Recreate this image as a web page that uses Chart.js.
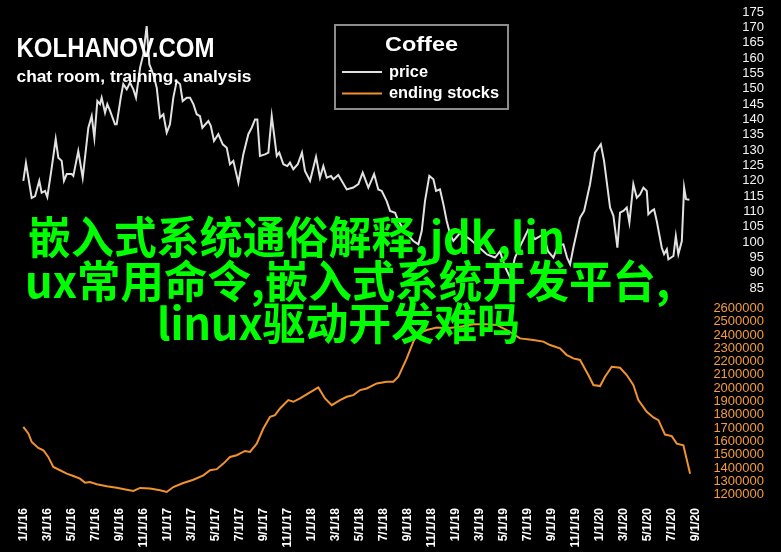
<!DOCTYPE html>
<html><head><meta charset="utf-8">
<script src="https://cdn.jsdelivr.net/npm/chart.js@4/dist/chart.umd.min.js"></script>
<style>html,body{margin:0;padding:0;background:#000;overflow:hidden}canvas{display:block}</style>
</head><body>
<canvas id="c" width="781" height="552"></canvas>
<script>
// ---- data (months since 1/1/16) ----
const priceT = [0,0.22,0.7,0.98,1.33,1.53,1.81,2.0,2.37,2.7,2.92,3.2,3.39,3.62,4.03,4.17,4.58,4.95,5.42,5.7,5.92,6.17,6.39,6.53,6.81,7.0,7.23,7.64,7.78,8.12,8.33,8.62,8.89,9.17,9.39,9.73,10.0,10.28,10.5,10.83,11.12,11.39,11.67,11.95,12.22,12.5,12.78,13.06,13.28,13.62,13.89,14.17,14.45,14.72,14.92,15.42,15.62,15.89,16.25,16.62,16.95,17.22,17.5,17.92,18.33,18.75,19.03,19.31,19.5,19.72,20.14,20.42,20.7,21.12,21.33,21.67,22.0,22.22,22.5,22.87,23.22,23.47,23.89,24.17,24.39,24.72,25.0,25.28,25.64,25.83,26.25,26.95,27.5,27.92,28.28,28.75,29.23,29.58,29.87,30.28,30.56,30.98,31.25,31.9,32.5,32.92,33.2,33.47,33.83,34.17,34.39,34.72,35.0,35.28,35.56,35.83,36.39,37.22,38.06,38.64,39.31,39.72,40.14,40.56,40.97,41.56,42.06,42.64,43.33,43.73,44.17,44.56,45.0,45.31,45.56,45.83,46.39,46.73,47.22,47.64,48.12,48.39,48.89,49.17,49.5,49.72,50.0,50.28,50.5,50.83,51.12,51.39,51.67,51.95,52.08,52.37,52.56,52.78,53.2,53.39,53.62,53.75,54.17,54.37,54.58,54.87,55.06,55.22,55.5];
const priceV = [120,125.8,114.4,115,120,116.1,116.7,114.7,124.3,133.6,127.5,126.5,120,122.2,122.2,121.6,129.7,121,137.3,141.1,134,146,145,147.1,142.2,145,142.8,138.4,138.4,147.1,151.5,149.8,152,149.8,147.1,156.9,161.2,170.4,158,154.7,150.3,140.6,141.7,135.7,138.4,147.1,152.5,151.5,146,147.1,147.1,145,141.7,141.1,137.3,139.5,137.9,133,135.2,131.9,130.8,125.4,126.5,119.4,128.6,135.2,137.3,140,140,128.1,128.6,129.2,141.1,128.1,129.2,125.4,124.8,125.9,123.8,125.4,129.2,123.2,120,124.3,127.8,121,124.8,121,121.6,120.5,121.9,117.2,117.8,118.9,122.7,117.8,122.2,117.2,116.7,113.4,110.2,109.6,106.9,103,100.4,99.3,103.7,113.4,121.6,120.5,116.7,117.2,112.4,106.9,102.6,100.4,103,101,98,96,95,97,92,88.5,95,100,104,101,102.6,97,95,99,99.3,95,92.8,98.2,108,110.2,118.9,129.2,131.9,126.5,111.3,108.6,98.2,109.6,110.2,111.3,106.4,118.9,114.5,115.6,117.8,116.7,109.1,110.2,110.7,106.9,98.2,96.1,97.7,94.4,95.5,102,96.1,100.4,117.8,114,113.8];
const stockT = [0,0.42,0.7,1.25,1.67,2.08,2.5,3.06,3.62,4.17,4.72,5.14,5.56,6.12,6.95,7.78,8.62,9.17,9.73,10.56,11.39,11.95,12.5,13.33,14.17,15.0,15.56,16.12,16.67,17.22,17.78,18.47,18.89,19.45,20.0,20.56,20.97,21.39,22.08,22.5,23.06,23.75,24.58,25.14,25.7,26.39,26.95,27.5,28.06,28.62,29.45,30.28,30.83,31.25,31.95,32.5,32.92,33.62,34.45,35.28,36.39,37.5,38.62,39.45,40.28,41.39,42.5,43.33,43.89,44.72,45.28,45.56,45.83,46.39,47.08,47.5,48.06,48.47,49.03,49.72,50.28,50.83,51.25,51.95,52.5,52.92,53.47,54.03,54.45,55.0,55.56];
const stockV = [1710000,1660000,1597000,1552000,1534000,1484000,1409000,1384000,1358000,1341000,1321000,1291000,1296000,1279000,1264000,1253000,1238000,1228000,1251000,1246000,1233000,1221000,1258000,1288000,1313000,1346000,1384000,1392000,1434000,1484000,1497000,1529000,1522000,1584000,1697000,1785000,1798000,1848000,1911000,1898000,1923000,1961000,2006000,1923000,1873000,1911000,1936000,1948000,1986000,1998000,2036000,2048000,2048000,2086000,2224000,2350000,2412000,2437000,2455000,2450000,2462000,2480000,2480000,2475000,2437000,2374000,2362000,2350000,2324000,2299000,2249000,2237000,2224000,2212000,2099000,2024000,2016000,2086000,2161000,2154000,2099000,2024000,1911000,1823000,1780000,1760000,1652000,1640000,1584000,1572000,1358000];
const xTickLabels = ['1/1/16','3/1/16','5/1/16','7/1/16','9/1/16','11/1/16','1/1/17','3/1/17','5/1/17','7/1/17','9/1/17','11/1/17','1/1/18','3/1/18','5/1/18','7/1/18','9/1/18','11/1/18','1/1/19','3/1/19','5/1/19','7/1/19','9/1/19','11/1/19','1/1/20','3/1/20','5/1/20','7/1/20','9/1/20'];
const priceTicks = [85,90,95,100,105,110,115,120,125,130,135,140,145,150,155,160,165,170,175];
const stockTicks = [1200000,1300000,1400000,1500000,1600000,1700000,1800000,1900000,2000000,2100000,2200000,2300000,2400000,2500000,2600000];
const seriesLabels = ['price','ending stocks'];
const legendTitle = 'Coffee';
const brandTitle = 'KOLHANOV.COM';
const brandSub = 'chat room, training, analysis';
const overlayLines = ['嵌入式系统通俗解释,jdk,lin','ux常用命令,嵌入式系统开发平台,','linux驱动开发难吗'];

const PRICE_COLOR = '#e2e2e2';
const STOCK_COLOR = '#f0922e';

function fitText(ctx, text, x, y, w, font, color, baseline) {
  ctx.save();
  ctx.font = font; ctx.fillStyle = color;
  ctx.textAlign = 'left'; ctx.textBaseline = baseline || 'alphabetic';
  const m = ctx.measureText(text).width;
  ctx.translate(x, y); ctx.scale(w / m, 1);
  ctx.fillText(text, 0, 0);
  ctx.restore();
}

const bgPlugin = {
  id: 'bg',
  beforeDraw(chart) {
    const c = chart.ctx;
    c.save(); c.fillStyle = '#000'; c.fillRect(0, 0, chart.width, chart.height); c.restore();
  },
  afterDraw(chart) {
    const c = chart.ctx;
    fitText(c, brandTitle, 16.5, 56.5, 198, 'bold 28px "Liberation Sans", Arial, sans-serif', '#ffffff');
    fitText(c, brandSub, 16.5, 81.5, 235, 'bold 17px "Liberation Sans", Arial, sans-serif', '#ffffff');
    c.save();
    c.fillStyle = '#000';
    c.fillRect(335, 25, 173, 84);
    c.strokeStyle = '#8c8c8c'; c.lineWidth = 2;
    c.strokeRect(335, 25, 173, 84);
    c.restore();
    fitText(c, legendTitle, 385, 51, 73, 'bold 20px "Liberation Sans", Arial, sans-serif', '#ffffff');
    const ds = chart.data.datasets;
    const rows = [{y: 72, ty: 76.5, w: 39}, {y: 93.5, ty: 98, w: 110}];
    ds.forEach((d, i) => {
      c.save();
      c.strokeStyle = d.borderColor; c.lineWidth = 2;
      c.beginPath(); c.moveTo(342, rows[i].y); c.lineTo(382, rows[i].y); c.stroke();
      c.restore();
      fitText(c, d.label, 389, rows[i].ty, rows[i].w, 'bold 16px "Liberation Sans", Arial, sans-serif', '#ffffff');
    });
    const f = 'bold 44px "Noto Sans CJK SC", sans-serif';
    fitText(c, overlayLines[0], 28, 237, 537, f, '#00ff00', 'middle');
    fitText(c, overlayLines[1], 25, 281, 645, f, '#00ff00', 'middle');
    fitText(c, overlayLines[2], 157, 323, 363, f, '#00ff00', 'middle');
  }
};

const tickFont = {family: '"Liberation Sans", Arial, sans-serif', size: 13};

new Chart(document.getElementById('c'), {
  type: 'line',
  data: {
    datasets: [
      {label: seriesLabels[0], data: priceT.map((t, i) => ({x: t, y: priceV[i]})), yAxisID: 'yPrice',
       borderColor: PRICE_COLOR, borderWidth: 2, pointRadius: 0, tension: 0, fill: false},
      {label: seriesLabels[1], data: stockT.map((t, i) => ({x: t, y: stockV[i]})), yAxisID: 'yStock',
       borderColor: STOCK_COLOR, borderWidth: 2, pointRadius: 0, tension: 0, fill: false}
    ]
  },
  options: {
    responsive: false, animation: false, devicePixelRatio: 1,
    layout: {padding: {left: 8, right: 17, top: 9, bottom: 2}},
    plugins: {legend: {display: false}, tooltip: {enabled: false}},
    scales: {
      x: {
        type: 'linear', min: -1.275, max: 57.5,
        grid: {display: false, drawTicks: false}, border: {display: false},
        afterBuildTicks: s => { s.ticks = xTickLabels.map((l, i) => ({value: i * 2})); },
        afterFit: s => { s.height = 48; },
        ticks: {autoSkip: false, minRotation: 90, maxRotation: 90, padding: 6, color: '#ffffff',
          font: {family: '"Liberation Sans", Arial, sans-serif', size: 12, weight: 'bold'},
          callback: v => xTickLabels[Math.round(v / 2)]}
      },
      yPrice: {
        type: 'linear', position: 'right', stack: 'right', stackWeight: 289,
        min: 81.63, max: 175.98,
        grid: {display: false, drawTicks: false}, border: {display: false},
        afterBuildTicks: s => { s.ticks = priceTicks.map(v => ({value: v})); },
        ticks: {autoSkip: false, padding: 0, crossAlign: 'far', color: '#f2f2f2', font: tickFont, callback: v => String(v)}
      },
      yStock: {
        type: 'linear', position: 'right', stack: 'right', stackWeight: 203,
        min: 1145500, max: 2673000,
        grid: {display: false, drawTicks: false}, border: {display: false},
        afterBuildTicks: s => { s.ticks = stockTicks.map(v => ({value: v})); },
        ticks: {autoSkip: false, padding: 0, crossAlign: 'far', color: '#f39c3c', font: tickFont, callback: v => String(v)}
      }
    }
  },
  plugins: [bgPlugin]
});
</script></body></html>
